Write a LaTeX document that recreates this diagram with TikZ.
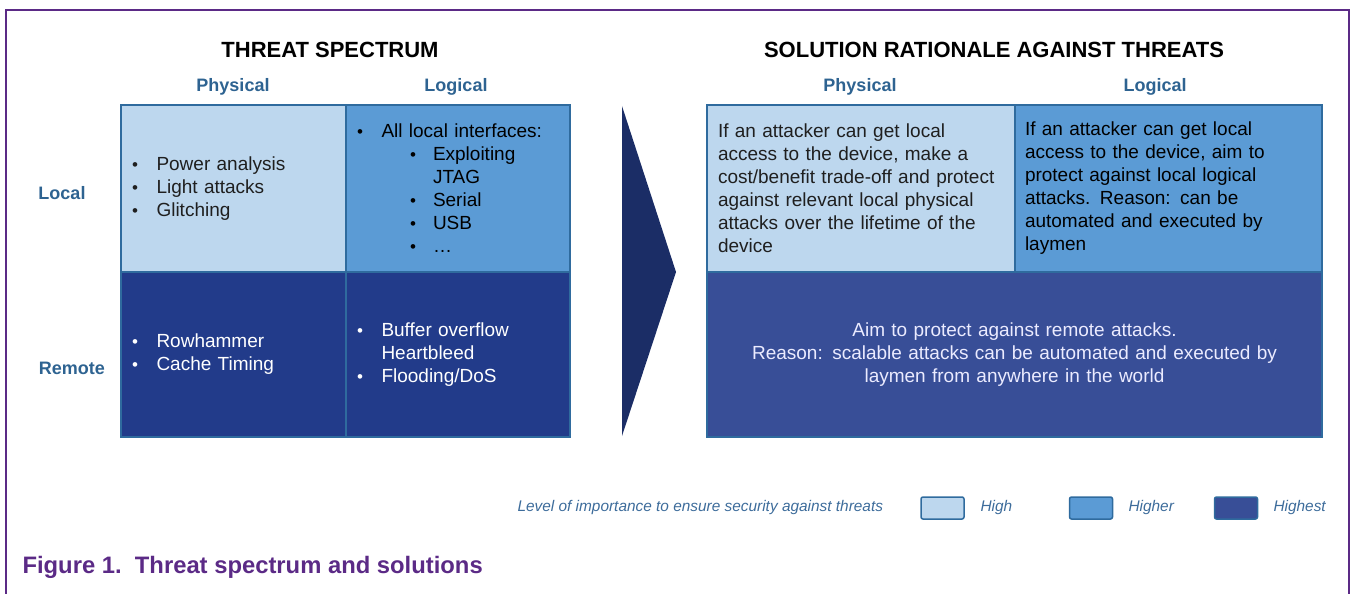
\documentclass[tikz,border=0pt]{standalone}
\usepackage{fontspec}
\setmainfont{Liberation Sans}
\usepackage{xcolor}
\usepackage{tikz}

\definecolor{framepurple}{HTML}{5B2A86}
\definecolor{cellborder}{HTML}{2F6B9E}
\definecolor{headblue}{HTML}{2E6391}
\definecolor{legendblue}{HTML}{3D6C9B}
\definecolor{highfill}{HTML}{BDD7EE}
\definecolor{higherfill}{HTML}{5B9BD5}
\definecolor{threatdark}{HTML}{223B8A}
\definecolor{highestfill}{HTML}{384E97}
\definecolor{chevronblue}{HTML}{1B2D66}

\newcommand{\bul}[1]{\makebox[24.5pt][l]{\fontsize{17}{17}\selectfont\textbullet}#1}
\newcommand{\subbul}[1]{\hspace*{53pt}\makebox[23pt][l]{\fontsize{17}{17}\selectfont\textbullet}#1}

\begin{document}
\begin{tikzpicture}[x=1pt, y=-1pt,
    cell/.style={rectangle, draw=cellborder, line width=1.5pt, inner xsep=11pt, inner ysep=0pt,
      align=left, font=\fontsize{19}{23}\selectfont},
    title/.style={font=\bfseries\fontsize{22}{24}\selectfont, text=black},
    head/.style={font=\bfseries\fontsize{18}{20}\selectfont, text=headblue},
    keybox/.style={rectangle, draw=cellborder, line width=1.5pt, rounded corners=2pt,
      minimum width=43pt, minimum height=22pt},
    keytext/.style={anchor=west, font=\itshape\fontsize{15.4}{18}\selectfont, text=legendblue}]
            \useasboundingbox (0,0) rectangle (1353,594);
            % Frame
            \draw[framepurple, line width=2.5pt] (6,594) -- (6,10) -- (1349,10) -- (1349,594);

            % Titles
            \node[title] (t1) at (330,50) {THREAT SPECTRUM};
            \node[title] (t2) at (994,50) {SOLUTION RATIONALE AGAINST THREATS};
            \node[head] (h1) at (233,87) {Physical};
            \node[head] (h2) at (456,87) {Logical};
            \node[head] (h3) at (860,87) {Physical};
            \node[head] (h4) at (1155,87) {Logical};
            \node[head] (r1) at (62,193) {Local};
            \node[head] (r2) at (72,368) {Remote};

            % Threat cells
            \node[cell, fill=highfill, text=black!88, text width=203pt, minimum width=225pt, minimum height=167pt]
              (tlp) at (233.5,188.5) {\bul{Power analysis}\\ \bul{Light attacks}\\ \bul{Glitching}};
            \node[cell, fill=higherfill, text=black, text width=202pt, minimum width=224pt, minimum height=167pt]
              (tll) at (458,188.5) {\bul{All local interfaces:}\\ \subbul{Exploiting}\\ \hspace*{76pt}JTAG\\
                \subbul{Serial}\\ \subbul{USB}\\ \subbul{…}};
            \node[cell, fill=threatdark, text=white, text width=203pt, minimum width=225pt, minimum height=165pt]
              (trp) at (233.5,354.5) {\bul{Rowhammer}\\ \bul{Cache Timing}};
            \node[cell, fill=threatdark, text=white, text width=202pt, minimum width=224pt, minimum height=165pt]
              (trl) at (458,354.5) {\bul{Buffer overflow}\\ \hspace*{24.5pt}Heartbleed\\ \bul{Flooding/DoS}};

            % Chevron
            \fill[chevronblue] (622,106) -- (676,272) -- (622,436) -- cycle;

            % Solution cells
            \node[cell, fill=highfill, text=black!88, text width=286pt, minimum width=308pt, minimum height=167pt]
              (slp) at (861,188.5) {If an attacker can get local\\ access to the device, make a\\
                cost/benefit trade-off and protect\\ against relevant local physical\\
                attacks over the lifetime of the\\ device};
            \node[cell, fill=higherfill, text=black, inner xsep=10pt, text width=287pt, minimum width=307pt, minimum height=167pt]
              (sll) at (1168.5,188.5) {If an attacker can get local\\ access to the device, aim to\\
                protect against local logical\\ attacks. Reason: can be\\
                automated and executed by\\ laymen};
            \node[cell, fill=highestfill, text=white!92!blue, align=center, text width=593pt, minimum width=615pt, minimum height=165pt]
              (sr) at (1014.5,354.5) {Aim to protect against remote attacks.\\
                Reason: scalable attacks can be automated and executed by\\ laymen from anywhere in the world};

            % Legend
            \node[keytext] (lg) at (514,508) {Level of importance to ensure security against threats};
            \node[keybox, fill=highfill] (k1) at (942.5,508) {};
            \node[keytext] (l1) at (977,508) {High};
            \node[keybox, fill=higherfill] (k2) at (1091,508) {};
            \node[keytext] (l2) at (1125,508) {Higher};
            \node[keybox, fill=highestfill] (k3) at (1236,508) {};
            \node[keytext] (l3) at (1270,508) {Highest};

            % Caption
            \node[anchor=west, font=\bfseries\fontsize{23.8}{26}\selectfont, text=framepurple]
              (cap) at (19,567) {Figure 1.\ \ Threat spectrum and solutions};
        \end{tikzpicture}
\end{document}
